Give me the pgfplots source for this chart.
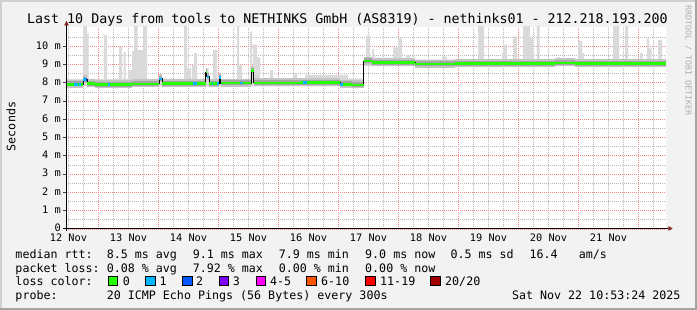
\documentclass[border=0pt]{standalone}
\usepackage{pgfplots}
\pgfplotsset{compat=1.18}
\usepackage{pgfplotstable}
\usepackage{fontspec}
\newfontfamily\mono{DejaVu Sans Mono}
\definecolor{bg}{RGB}{242,242,242}
\definecolor{shadeA}{RGB}{208,208,208}
\definecolor{shadeB}{RGB}{165,165,165}
\definecolor{mgrid}{RGB}{245,135,135}
\definecolor{lgrid}{RGB}{185,185,185}
\definecolor{smokeL}{RGB}{218,218,218}
\definecolor{smokeM}{RGB}{196,196,196}
\definecolor{smokeD}{RGB}{165,165,165}
\definecolor{arrowc}{RGB}{127,31,31}
\definecolor{c0}{HTML}{26FF00}
\definecolor{c1}{HTML}{00B8FF}
\definecolor{c2}{HTML}{0059FF}
\definecolor{c3}{HTML}{7E00FF}
\definecolor{c4}{HTML}{FF00FF}
\definecolor{c6}{HTML}{FF5500}
\definecolor{c11}{HTML}{FF0000}
\definecolor{c20}{HTML}{A10000}
\definecolor{credit}{RGB}{175,175,175}
\newcommand\titlefont{\mono\fontsize{13.3bp}{16bp}\selectfont}
\newcommand\axisfont{\mono\fontsize{10.3bp}{12bp}\selectfont}
\newcommand\legfont{\mono\fontsize{11.66bp}{14bp}\selectfont}
\newcommand\tinyfont{\mono\fontsize{8.3bp}{10bp}\selectfont}

% smoke envelope: upper step line, then back along the lower bound
\pgfplotstableread{
x y
0.4583 8.22
0.745 11.2
0.8117 10.7
0.8367 8.22
1.095 10.64
1.145 8.22
1.345 10.0
1.395 8.22
1.42 9.7
1.4533 8.22
1.495 8.7
1.5617 9.75
1.595 11.2
1.6533 9.8
1.745 11.2
1.8117 8.22
2.4283 11.2
2.4783 8.8
2.545 8.22
2.5617 9.0
2.595 9.63
2.645 8.22
2.8033 8.8
2.8367 8.22
2.9117 9.81
2.9783 8.22
3.3117 11.2
3.345 9.0
3.395 8.22
3.5283 10.82
3.5617 8.7
3.5783 10.1
3.645 9.4
3.695 8.22
3.8617 8.7
3.9117 8.22
4.245 8.55
4.3117 8.22
4.445 8.45
5.1617 8.25
5.4167 9.3
5.4617 10.6
5.5283 9.3
5.5617 9.87
5.595 9.3
5.9117 9.95
5.995 10.45
6.0617 9.3
6.1283 9.54
6.195 9.3
6.7283 9.45
6.8117 9.3
7.3283 11.2
7.4283 9.3
7.7283 9.7
7.7617 10.1
7.8117 9.3
7.9117 10.55
7.9783 9.3
8.0783 11.2
8.195 10.5
8.245 9.3
8.3067 11.2
8.35 9.3
8.6567 9.4
8.695 9.3
8.995 10.3
9.0617 9.63
9.095 9.3
9.5783 11.2
9.6783 9.3
9.7783 11.2
9.8283 9.3
10.0283 9.63
10.07 9.3
10.14 10.45
10.1783 9.9
10.22 9.3
10.3283 10.36
10.395 9.3
10.4583 9.3
10.4583 8.93
5.4167 7.82
0.4583 7.82
}\smoketab

\pgfplotstableread{
x y
0.4583 7.93
0.745 8.2
0.8117 7.97
0.945 7.92
1.5617 7.95
2.0117 8.22
2.0617 7.97
2.7867 8.6
2.8033 8.33
2.845 7.97
3.0117 8.3
3.0367 7.99
3.545 8.68
3.5867 8.0
4.3617 8.02
5.0283 7.93
5.2283 7.89
5.4167 9.2
5.5617 9.12
6.2783 9.04
6.945 9.06
8.6117 9.1
8.945 9.06
9.6917 9.07
10.4583 9.07
}\medtab

\begin{document}
\begin{tikzpicture}
% image background and frame
\fill[bg] (-66bp,-81bp) rectangle (631bp,229bp);
\fill[shadeA] (-66bp,227bp) rectangle (631bp,229bp);
\fill[shadeA] (-66bp,-81bp) rectangle (-64bp,229bp);
\fill[shadeB] (-66bp,-81bp) rectangle (631bp,-78.5bp);
\fill[shadeB] (629bp,-81bp) rectangle (631bp,229bp);

\begin{axis}[
  at={(0,0)}, anchor=south west,
  scale only axis, width=600bp, height=202bp,
  xmin=0.4583, xmax=10.4583, ymin=0, ymax=11.068,
  axis background/.style={fill=white},
  axis line style={draw=none},
  major tick length=0pt, minor tick length=0pt,
  grid=both,
  major grid style={draw=mgrid, dash pattern=on 1bp off 1bp, line width=1bp},
  minor grid style={draw=lgrid, dash pattern=on 1bp off 1bp, line width=1bp},
  xtick={1,2,3,4,5,6,7,8,9,10},
  xticklabels={},
  minor xtick={0.5,0.75,1.25,1.5,1.75,2.25,2.5,2.75,3.25,3.5,3.75,4.25,4.5,4.75,5.25,5.5,5.75,6.25,6.5,6.75,7.25,7.5,7.75,8.25,8.5,8.75,9.25,9.5,9.75,10.25},
  extra x ticks={0.5,1.5,2.5,3.5,4.5,5.5,6.5,7.5,8.5,9.5},
  extra x tick labels={12 Nov,13 Nov,14 Nov,15 Nov,16 Nov,17 Nov,18 Nov,19 Nov,20 Nov,21 Nov},
  extra x tick style={grid=none, xticklabel style={font=\axisfont, anchor=base, inner sep=0pt, yshift=-12bp}},
  ytick={0,1,2,3,4,5,6,7,8,9,10},
  yticklabels={0,1 m,2 m,3 m,4 m,5 m,6 m,7 m,8 m,9 m,10 m},
  minor ytick={0.5,1.5,2.5,3.5,4.5,5.5,6.5,7.5,8.5,9.5,10.5},
  yticklabel style={font=\axisfont, anchor=east, inner sep=0pt, xshift=-5bp, yshift=1bp},
]
\addplot[fill=smokeL, draw=none, const plot] table {\smoketab};
\addplot[smokeM, line width=8bp, jump mark left, yshift=0.5bp] table {\medtab};
\addplot[smokeD, line width=5bp, jump mark left, yshift=0.3bp] table {\medtab};
\addplot[black, line width=1bp, const plot] table {\medtab};
\addplot[c0, line width=2.6bp, jump mark left] table {\medtab};
% loss colored segments
\addplot[c1, line width=2.6bp, jump mark left] coordinates {(0.595,7.93) (0.6533,7.93)};
\addplot[c1, line width=2.6bp, jump mark left] coordinates {(0.67,7.93) (0.7117,7.93)};
\addplot[c1, line width=2.6bp, jump mark left] coordinates {(0.745,8.2) (0.7867,8.2)};
\addplot[c2, line width=2.6bp, jump mark left] coordinates {(0.7867,8.2) (0.8117,8.2)};
\addplot[c1, line width=2.6bp, jump mark left] coordinates {(1.1617,7.92) (1.195,7.92)};
\addplot[c1, line width=2.6bp, jump mark left] coordinates {(2.0117,8.22) (2.0617,8.22)};
\addplot[c1, line width=2.6bp, jump mark left] coordinates {(2.5783,7.97) (2.645,7.97)};
\addplot[c1, line width=2.6bp, jump mark left] coordinates {(2.8033,8.33) (2.845,8.33)};
\addplot[c1, line width=2.6bp, jump mark left] coordinates {(2.895,7.97) (2.9117,7.97)};
\addplot[c1, line width=2.6bp, jump mark left] coordinates {(2.9783,7.97) (3.0033,7.97)};
\addplot[c1, line width=2.6bp, jump mark left] coordinates {(3.0117,8.3) (3.0367,8.3)};
\addplot[c1, line width=2.6bp, jump mark left] coordinates {(3.3617,8.0) (3.4117,8.0)};
\addplot[c1, line width=2.6bp, jump mark left] coordinates {(4.4117,8.02) (4.4783,8.02)};
\addplot[c1, line width=2.6bp, jump mark left] coordinates {(5.0283,7.93) (5.0783,7.93)};
\end{axis}

% axis lines and arrows
\draw[line width=1bp, black] (-3bp,0.5bp) -- (602.3bp,0.5bp);
\fill[arrowc] (606.7bp,0.5bp) -- (602.3bp,2.9bp) -- (602.3bp,-1.9bp) -- cycle;
\draw[line width=1bp, black] (0.5bp,-2bp) -- (0.5bp,203.5bp);
\fill[arrowc] (0.5bp,208bp) -- (-1.9bp,203.5bp) -- (2.9bp,203.5bp) -- cycle;
\foreach \yy in {18.25,36.5,54.75,73,91.25,109.5,127.75,146,164.25,182.5}{
  \draw[line width=1bp, black!75] (-3bp,\yy bp) -- (0,\yy bp);
}

% title and labels
\node[anchor=base, inner sep=0pt] at (281.5bp,205bp) {\titlefont Last 10 Days from tools to NETHINKS GmbH (AS8319) - nethinks01 - 212.218.193.200};
\node[rotate=90, inner sep=0pt] at (-55bp,102.5bp) {\legfont Seconds};
\node[rotate=-90, anchor=west, inner sep=0pt, text=credit] at (622.3bp,224bp) {\tinyfont RRDTOOL / TOBI OETIKER};

% legend rows
\begin{scope}[every node/.style={anchor=base west, inner sep=0pt}]
\node at (-50.7bp,-29.3bp) {\legfont median rtt:};
\node at (40.6bp,-29.3bp) {\legfont 8.5 ms avg};
\node at (126.6bp,-29.3bp) {\legfont 9.1 ms max};
\node at (212.6bp,-29.3bp) {\legfont 7.9 ms min};
\node at (299bp,-29.3bp) {\legfont 9.0 ms now};
\node at (384.3bp,-29.3bp) {\legfont 0.5 ms sd};
\node at (463.3bp,-29.3bp) {\legfont 16.4};
\node at (512.6bp,-29.3bp) {\legfont am/s};

\node at (-50.7bp,-43bp) {\legfont packet loss:};
\node at (40.6bp,-43bp) {\legfont 0.08 \% avg};
\node at (126.6bp,-43bp) {\legfont 7.92 \% max};
\node at (212.6bp,-43bp) {\legfont 0.00 \% min};
\node at (299bp,-43bp) {\legfont 0.00 \% now};

\node at (-50.7bp,-56.7bp) {\legfont loss color:};
\node at (56.6bp,-56.7bp) {\legfont 0};
\node at (93.3bp,-56.7bp) {\legfont 1};
\node at (130bp,-56.7bp) {\legfont 2};
\node at (166.6bp,-56.7bp) {\legfont 3};
\node at (204bp,-56.7bp) {\legfont 4-5};
\node at (255bp,-56.7bp) {\legfont 6-10};
\node at (314bp,-56.7bp) {\legfont 11-19};
\node at (379bp,-56.7bp) {\legfont 20/20};

\node at (-50.7bp,-70.3bp) {\legfont probe:};
\node at (40.6bp,-70.3bp) {\legfont 20 ICMP Echo Pings (56 Bytes) every 300s};
\node[anchor=base east] at (614.7bp,-70.3bp) {\legfont Sat Nov 22 10:53:24 2025};
\end{scope}
\foreach \bx/\cc in {42.3/c0,79.7/c1,116.7/c2,153.3/c3,190/c4,240.7/c6,299.7/c11,364.7/c20}{
  \filldraw[fill=\cc, draw=black, line width=0.8bp] (\bx bp,-56.5bp) rectangle ++(9.3bp,9.5bp);
}

\pgfresetboundingbox
\useasboundingbox (-66bp,-81bp) rectangle (631bp,229bp);
\end{tikzpicture}
\end{document}
